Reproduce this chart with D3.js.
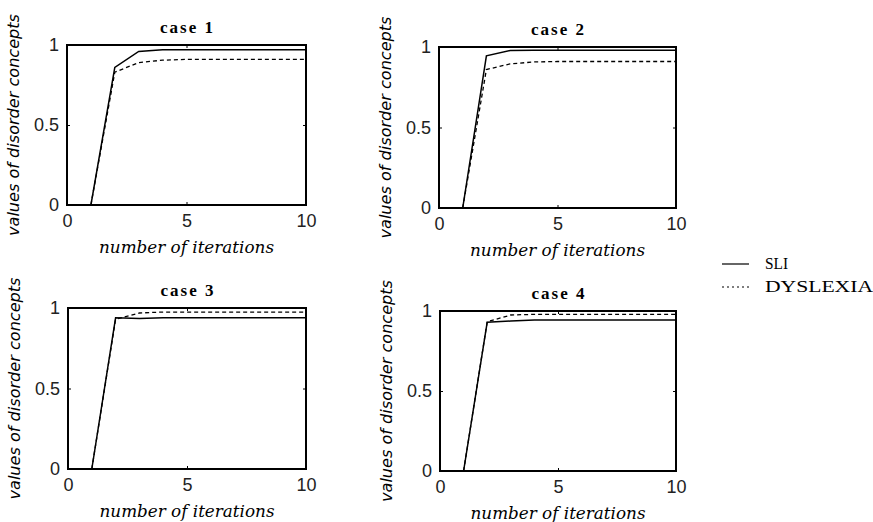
<!DOCTYPE html>
<html>
<head>
<meta charset="utf-8">
<script src="https://cdn.jsdelivr.net/npm/d3@7"></script>
<style>
  body { margin: 0; background: #fff; }
  svg { display: block; }
</style>
</head>
<body>
<script>
// data
let caseTitles = ['case 1', 'case 2', 'case 3', 'case 4'];
let iterations = [1, 2, 3, 4, 5, 6, 7, 8, 9, 10];
let sliValues = [
   [0, 0.86, 0.96, 0.97, 0.97, 0.97, 0.97, 0.97, 0.97, 0.97],
   [0, 0.945, 0.978, 0.98, 0.98, 0.98, 0.98, 0.98, 0.98, 0.98],
   [0, 0.94, 0.935, 0.94, 0.94, 0.94, 0.94, 0.94, 0.94, 0.94],
   [0, 0.93, 0.937, 0.944, 0.944, 0.944, 0.944, 0.944, 0.944, 0.944]
];
let dyslexiaValues = [
   [0, 0.83, 0.89, 0.905, 0.91, 0.91, 0.91, 0.91, 0.91, 0.91],
   [0, 0.86, 0.895, 0.907, 0.91, 0.91, 0.91, 0.91, 0.91, 0.91],
   [0, 0.93, 0.969, 0.975, 0.975, 0.975, 0.975, 0.975, 0.975, 0.975],
   [0, 0.933, 0.975, 0.979, 0.979, 0.979, 0.979, 0.979, 0.979, 0.979]
];
let xTicks = [0, 5, 10];
let yTicks = [0, 0.5, 1];
let seriesNames = ['SLI', 'DYSLEXIA'];

// svg canvas
let width = 873;
let height = 522;
let svg = d3.select('body').append('svg')
   .attr('width', width)
   .attr('height', height);

// plot boxes for each panel (left, top, right, bottom)
let panels = [
   {x0: 67, y0: 45, x1: 306, y1: 205},
   {x0: 439, y0: 47, x1: 676, y1: 208},
   {x0: 68, y0: 308, x1: 306, y1: 469},
   {x0: 440, y0: 311, x1: 676, y1: 471}
];

let drawPanel = (p, i) => {
   let x = d3.scaleLinear().domain([0, 10]).range([p.x0, p.x1]);
   let y = d3.scaleLinear().domain([0, 1]).range([p.y1, p.y0]);
   let g = svg.append('g');

   let line = d3.line()
      .x((d, k) => x(iterations[k]))
      .y((d) => y(d));

   g.append('path')
      .attr('d', line(dyslexiaValues[i]))
      .attr('fill', 'none')
      .attr('stroke', '#000')
      .attr('stroke-width', 1.3)
      .attr('stroke-dasharray', '4,3');
   g.append('path')
      .attr('d', line(sliValues[i]))
      .attr('fill', 'none')
      .attr('stroke', '#000')
      .attr('stroke-width', 1.5);

   // box (matlab style, ticks inside)
   g.append('rect')
      .attr('x', p.x0).attr('y', p.y0)
      .attr('width', p.x1 - p.x0).attr('height', p.y1 - p.y0)
      .attr('fill', 'none')
      .attr('stroke', '#000')
      .attr('stroke-width', 2);

   let axFont = (sel) => sel.selectAll('text')
      .attr('font-family', '"Liberation Sans", Arial, sans-serif')
      .attr('font-size', '18px')
      .attr('fill', '#222');

   g.append('g')
      .attr('transform', `translate(0,${p.y1})`)
      .call(d3.axisBottom(x).tickValues(xTicks).tickSize(-3).tickPadding(9).tickFormat(d3.format('d')))
      .call((a) => a.select('.domain').remove())
      .call(axFont);
   g.append('g')
      .attr('transform', `translate(0,${p.y0})`)
      .call(d3.axisTop(x).tickValues(xTicks).tickSize(-3).tickFormat(''))
      .call((a) => a.select('.domain').remove());
   g.append('g')
      .attr('transform', `translate(${p.x0},0)`)
      .call(d3.axisLeft(y).tickValues(yTicks).tickSize(-3).tickPadding(8).tickFormat((d) => d === 0.5 ? '0.5' : d3.format('d')(d)))
      .call((a) => a.select('.domain').remove())
      .call(axFont);
   g.append('g')
      .attr('transform', `translate(${p.x1},0)`)
      .call(d3.axisRight(y).tickValues(yTicks).tickSize(-3).tickFormat(''))
      .call((a) => a.select('.domain').remove());

   // title
   g.append('text')
      .attr('x', (p.x0 + p.x1) / 2)
      .attr('y', p.y0 - 12)
      .attr('text-anchor', 'middle')
      .attr('font-family', '"Liberation Serif", "Times New Roman", serif')
      .attr('font-weight', 'bold')
      .attr('font-size', '17px')
      .attr('textLength', 53)
      .attr('lengthAdjust', 'spacing')
      .text(caseTitles[i]);

   // x label
   g.append('text')
      .attr('x', (p.x0 + p.x1) / 2)
      .attr('y', p.y1 + 48)
      .attr('text-anchor', 'middle')
      .attr('font-family', '"DejaVu Serif", serif')
      .attr('font-style', 'italic')
      .attr('font-size', '16px')
      .attr('textLength', 175)
      .attr('lengthAdjust', 'spacingAndGlyphs')
      .text('number of iterations');

   // y label
   g.append('text')
      .attr('transform', `translate(${p.x0 - 48},${(p.y0 + p.y1) / 2}) rotate(-90)`)
      .attr('text-anchor', 'middle')
      .attr('font-family', '"DejaVu Sans", sans-serif')
      .attr('font-style', 'italic')
      .attr('font-size', '16px')
      .attr('textLength', 222)
      .attr('lengthAdjust', 'spacingAndGlyphs')
      .text('values of disorder concepts');
}

panels.forEach(drawPanel);

// legend
let legendWidths = [23, 108];
let legend = svg.append('g').attr('id', 'legend');
legend.selectAll('line')
   .data(seriesNames)
   .enter()
   .append('line')
   .attr('x1', 722).attr('x2', 749)
   .attr('y1', (d, i) => 264 + i * 23)
   .attr('y2', (d, i) => 264 + i * 23)
   .attr('stroke', '#000')
   .attr('stroke-width', 1.2)
   .attr('stroke-dasharray', (d, i) => i === 0 ? null : '2,3');
legend.selectAll('text')
   .data(seriesNames)
   .enter()
   .append('text')
   .attr('x', 765)
   .attr('y', (d, i) => 269 + i * 23)
   .attr('font-family', '"Liberation Serif", "Times New Roman", serif')
   .attr('font-size', '16px')
   .attr('textLength', (d, i) => legendWidths[i])
   .attr('lengthAdjust', 'spacingAndGlyphs')
   .text((d) => d);
</script>
</body>
</html>
